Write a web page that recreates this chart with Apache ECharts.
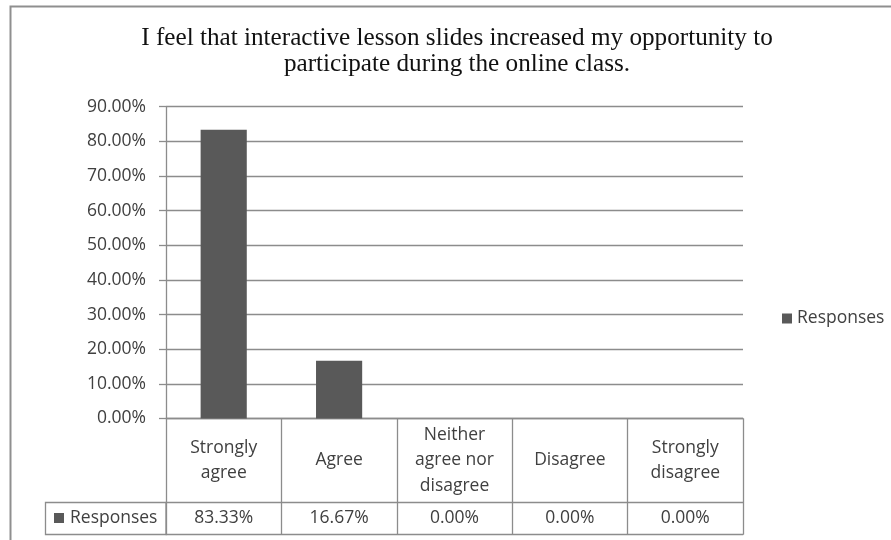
<!DOCTYPE html>
<html>
<head>
<meta charset="utf-8">
<script src="https://cdn.jsdelivr.net/npm/echarts@6/dist/echarts.min.js"></script>
<style>
html,body{margin:0;padding:0;background:#fff;}
#chart{width:891px;height:540px;}
</style>
</head>
<body>
<div id="chart"></div>
<script>
const titleText = 'I feel that interactive lesson slides increased my opportunity to\nparticipate during the online class.';
const categories = ['Strongly\nagree', 'Agree', 'Neither\nagree nor\ndisagree', 'Disagree', 'Strongly\ndisagree'];
const values = [83.33, 16.67, 0.00, 0.00, 0.00];
const seriesName = 'Responses';
const yMin = 0, yMax = 90, yStep = 10;

const GRAY = '#8c8c8c';
const TEXT = '#404040';
const BAR = '#595959';
const FONT = '"Open Sans", sans-serif';
const FS = 17.5;

const chart = echarts.init(document.getElementById('chart'), null, {renderer: 'canvas'});
chart.setOption({
  animation: false,
  backgroundColor: '#ffffff',
  title: {
    text: titleText,
    left: 457,
    textAlign: 'center',
    top: 26,
    padding: 0,
    textStyle: {
      fontFamily: '"Liberation Serif", "Times New Roman", serif',
      fontSize: 25.2,
      lineHeight: 25.5,
      fontWeight: 'normal',
      color: '#111111'
    }
  },
  legend: {
    data: [seriesName],
    left: 777,
    top: 303.5,
    itemWidth: 10,
    itemHeight: 10,
    icon: 'rect',
    textStyle: {fontFamily: FONT, fontSize: FS, color: TEXT, lineHeight: 20}
  },
  grid: {left: 166, right: 148, top: 106.7, bottom: 121.5, containLabel: false},
  xAxis: [
    {
      type: 'category',
      data: categories,
      position: 'bottom',
      axisLine: {show: true, lineStyle: {color: GRAY, width: 1.3}},
      axisTick: {show: true, interval: 0, length: 116, lineStyle: {color: GRAY, width: 1.3}},
      axisLabel: {
        interval: 0, margin: 42, verticalAlign: 'middle',
        fontFamily: FONT, fontSize: FS, lineHeight: 25.5, color: TEXT
      },
      splitLine: {show: false}
    },
    {
      type: 'category',
      data: categories,
      position: 'bottom',
      offset: 84,
      axisLine: {show: true, lineStyle: {color: GRAY, width: 1.3}},
      axisTick: {show: false},
      axisLabel: {
        interval: 0, margin: 16, verticalAlign: 'middle',
        fontFamily: FONT, fontSize: FS, color: TEXT,
        formatter: function (v, i) { return values[i].toFixed(2) + '%'; }
      }
    },
    {
      type: 'category',
      data: categories,
      position: 'bottom',
      offset: 116,
      axisLine: {show: true, lineStyle: {color: GRAY, width: 1.3}},
      axisTick: {show: false},
      axisLabel: {show: false}
    }
  ],
  yAxis: {
    type: 'value',
    min: yMin, max: yMax, interval: yStep,
    axisLine: {show: true, lineStyle: {color: GRAY, width: 1.3}},
    axisTick: {show: true, length: 7, lineStyle: {color: GRAY, width: 1.3}},
    axisLabel: {
      margin: 20, fontFamily: FONT, fontSize: FS, color: TEXT,
      formatter: function (v) { return v.toFixed(2) + '%'; }
    },
    splitLine: {show: true, lineStyle: {color: GRAY, width: 1.3}}
  },
  series: [{
    name: seriesName,
    type: 'bar',
    xAxisIndex: 0,
    data: values,
    barWidth: '40%',
    itemStyle: {color: BAR}
  }],
  graphic: [
    {
      type: 'polyline', silent: true,
      shape: {points: [[10.5, 540], [10.5, 6.5], [891, 6.5]]},
      style: {stroke: '#8f8f8f', lineWidth: 2, fill: null}
    },
    {
      type: 'rect', silent: true,
      shape: {x: 45.5, y: 502.5, width: 120.5, height: 32},
      style: {stroke: GRAY, lineWidth: 1.3, fill: null}
    },
    {
      type: 'rect', silent: true,
      shape: {x: 54, y: 513, width: 10, height: 10},
      style: {fill: BAR}
    },
    {
      type: 'text', silent: true,
      x: 70, y: 518.5,
      style: {text: seriesName, font: FS + 'px ' + FONT, fill: TEXT, verticalAlign: 'middle', align: 'left'}
    }
  ]
});
</script>
</body>
</html>
